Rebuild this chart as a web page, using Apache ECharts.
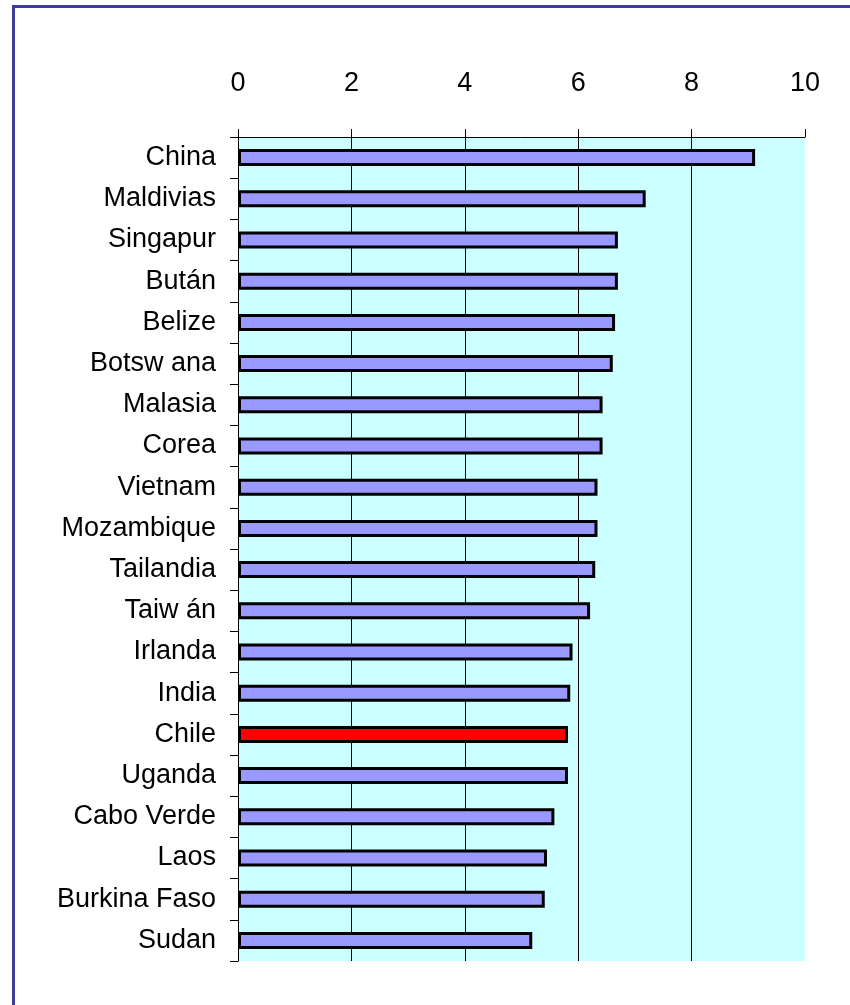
<!DOCTYPE html>
<html>
<head>
<meta charset="utf-8">
<style>
html,body{margin:0;padding:0;background:#fff;}
#chart{width:850px;height:1005px;}
</style>
<script src="https://cdn.jsdelivr.net/npm/echarts@6/dist/echarts.min.js"></script>
</head>
<body>
<div id="chart"></div>
<script>
const categories = ["China","Maldivias","Singapur","Bután","Belize","Botsw ana","Malasia","Corea","Vietnam","Mozambique","Tailandia","Taiw án","Irlanda","India","Chile","Uganda","Cabo Verde","Laos","Burkina Faso","Sudan"];
const values = [9.12,7.19,6.70,6.70,6.65,6.61,6.43,6.43,6.34,6.34,6.30,6.21,5.90,5.86,5.82,5.82,5.58,5.45,5.41,5.19];
const highlighted = ["Chile"];
const xTicks = {min:0, max:10, interval:2};

const FONT = "'Liberation Sans', Arial, sans-serif";
const chart = echarts.init(document.getElementById('chart'), null, {renderer:'canvas'});
chart.setOption({
  animation:false,
  backgroundColor:'#ffffff',
  graphic:[{
    type:'rect', silent:true, z:100,
    shape:{x:13.5, y:6.5, width:900, height:1100},
    style:{fill:'none', stroke:'#3c3c9c', lineWidth:3}
  }],
  grid:{left:238, top:137, width:567, height:824, show:true, backgroundColor:'#ccffff', borderWidth:0, containLabel:false},
  xAxis:{
    type:'value', position:'top', min:xTicks.min, max:xTicks.max, interval:xTicks.interval,
    axisLine:{show:true, lineStyle:{color:'#000', width:1}},
    axisTick:{show:true, inside:false, length:8, lineStyle:{color:'#000', width:1}},
    axisLabel:{color:'#000', fontSize:27, fontFamily:FONT, margin:40},
    splitLine:{show:true, showMinLine:false, showMaxLine:false, lineStyle:{color:'#000', width:1}}
  },
  yAxis:{
    type:'category', inverse:true, data:categories,
    axisLine:{show:true, lineStyle:{color:'#000', width:1}},
    axisTick:{show:true, inside:false, length:8, lineStyle:{color:'#000', width:1}},
    axisLabel:{color:'#000', fontSize:27, fontFamily:FONT, margin:22},
    splitLine:{show:false}
  },
  series:[{
    type:'bar', data:values, barWidth:17,
    itemStyle:{
      color:function(p){ return highlighted.indexOf(categories[p.dataIndex])>=0 ? '#ff0000' : '#9999ff'; },
      borderColor:'#000', borderWidth:3
    }
  }]
});
</script>
</body>
</html>
